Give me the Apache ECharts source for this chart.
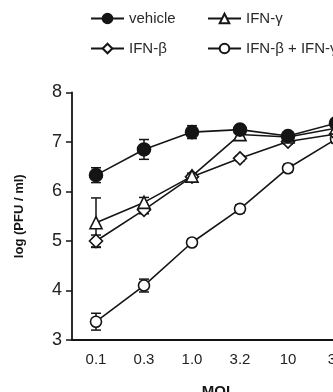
<!DOCTYPE html>
<html>
<head>
<meta charset="utf-8">
<script src="https://cdn.jsdelivr.net/npm/echarts@6/dist/echarts.min.js"></script>
<style>
  html, body { margin: 0; padding: 0; background: #fff; }
  #chart { width: 333px; height: 392px; }
</style>
</head>
<body>
<div id="chart"></div>
<script>
  // MOI categories
  var moi = ['0.1', '0.3', '1.0', '3.2', '10', '32'];
  var yTicks = [3, 4, 5, 6, 7, 8];

  // log (PFU / ml)
  var vehicle = [6.33, 6.85, 7.2, 7.25, 7.12, 7.38];
  var vehicleErr = [0.15, 0.2, 0.13, 0.06, 0.06, 0.08];
  var ifnG = [5.37, 5.78, 6.31, 7.15, 7.1, 7.28];
  var ifnGErr = [0.5, 0.1, 0.06, 0.06, 0.06, 0.06];
  var ifnB = [5.0, 5.63, 6.3, 6.67, 7.01, 7.16];
  var ifnBErr = [0.12, 0.08, 0.05, 0.05, 0.05, 0.06];
  var ifnBG = [3.37, 4.1, 4.97, 5.65, 6.47, 7.06];
  var ifnBGErr = [0.17, 0.13, 0.07, 0.08, 0.08, 0.08];

  var ink = '#151515';
  var font = 'Liberation Sans, Arial, Helvetica, sans-serif';

  function errData(vals, errs) {
    return vals.map(function (v, i) { return [i, v - errs[i], v + errs[i]]; });
  }

  function renderErr(params, api) {
    var top = api.coord([api.value(0), api.value(2)]);
    var bot = api.coord([api.value(0), api.value(1)]);
    var w = 5;
    var st = { stroke: ink, lineWidth: 1.5 };
    return {
      type: 'group',
      children: [
        { type: 'line', shape: { x1: top[0], y1: top[1], x2: bot[0], y2: bot[1] }, style: st },
        { type: 'line', shape: { x1: top[0] - w, y1: top[1], x2: top[0] + w, y2: top[1] }, style: st },
        { type: 'line', shape: { x1: bot[0] - w, y1: bot[1], x2: bot[0] + w, y2: bot[1] }, style: st }
      ]
    };
  }

  function lineSeries(name, data, symbol, size, fill) {
    return {
      name: name,
      type: 'line',
      data: data,
      symbol: symbol,
      symbolSize: size,
      showAllSymbol: true,
      z: 3,
      lineStyle: { color: ink, width: 1.6 },
      itemStyle: { color: fill, borderColor: ink, borderWidth: 1.6 },
      emphasis: { disabled: true },
      animation: false
    };
  }

  function errSeries(vals, errs) {
    return {
      type: 'custom',
      data: errData(vals, errs),
      renderItem: renderErr,
      z: 1,
      silent: true,
      animation: false
    };
  }

  var legendText = { color: '#2a2a2a', fontSize: 15, fontFamily: font };

  function legendItem(name, left, top) {
    return {
      data: [name],
      left: left, top: top,
      itemWidth: 33, itemHeight: 12,
      textStyle: legendText,
      selectedMode: false
    };
  }

  var chart = echarts.init(document.getElementById('chart'));
  chart.setOption({
    animation: false,
    legend: [
      legendItem('vehicle', 85, 6),
      legendItem('IFN-γ', 202, 6),
      legendItem('IFN-β', 85, 36),
      legendItem('IFN-β + IFN-γ', 202, 36)
    ],
    grid: { left: 72, top: 92.5, bottom: 52, right: -27, outerBoundsMode: 'none' },
    xAxis: {
      type: 'category',
      data: moi,
      boundaryGap: true,
      name: 'MOI',
      nameLocation: 'middle',
      nameGap: 44,
      nameTextStyle: { fontSize: 15, fontWeight: 'bold', color: ink, fontFamily: font },
      axisLine: { lineStyle: { color: ink, width: 1.8 } },
      axisTick: { alignWithLabel: true, length: 6, lineStyle: { color: ink, width: 1.5 } },
      axisLabel: { fontSize: 15, color: '#222', margin: 12, fontFamily: font },
      splitLine: { show: false }
    },
    yAxis: {
      type: 'value',
      min: yTicks[0],
      max: yTicks[yTicks.length - 1],
      interval: 1,
      name: 'log (PFU / ml)',
      nameLocation: 'middle',
      nameGap: 46,
      nameTextStyle: { fontSize: 13, fontWeight: 'bold', color: ink, fontFamily: font },
      axisLine: { show: true, lineStyle: { color: ink, width: 1.8 } },
      axisTick: { show: true, length: 6, lineStyle: { color: ink, width: 1.5 } },
      axisLabel: { fontSize: 18, color: '#222', margin: 10, fontFamily: font },
      splitLine: { show: false }
    },
    series: [
      errSeries(vehicle, vehicleErr),
      errSeries(ifnG, ifnGErr),
      errSeries(ifnB, ifnBErr),
      errSeries(ifnBG, ifnBGErr),
      lineSeries('IFN-β + IFN-γ', ifnBG, 'circle', 11, '#fff'),
      lineSeries('IFN-β', ifnB, 'diamond', 13, '#fff'),
      lineSeries('IFN-γ', ifnG, 'triangle', 12, '#fff'),
      lineSeries('vehicle', vehicle, 'circle', 13, ink)
    ]
  });
</script>
</body>
</html>
